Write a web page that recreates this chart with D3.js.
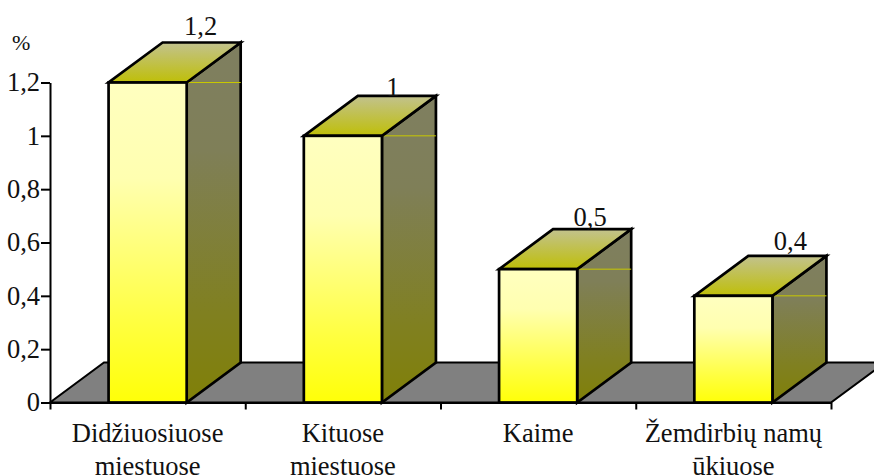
<!DOCTYPE html>
<html>
<head>
<meta charset="utf-8">
<script src="https://cdn.jsdelivr.net/npm/d3@7"></script>
<style>
html,body{margin:0;padding:0;background:#fff;overflow:hidden}
svg{display:block}
text{font-family:"Liberation Serif","Times New Roman",serif;fill:#111}
</style>
</head>
<body>
<svg id="chart" width="874" height="475"></svg>
<script>
const categories = [["Didžiuosiuose","miestuose"],["Kituose","miestuose"],["Kaime"],["Žemdirbių namų","ūkiuose"]];
const values = [1.2, 1, 0.5, 0.4];
const valueLabels = ["1,2","1","0,5","0,4"];
const tickValues = [0, 0.2, 0.4, 0.6, 0.8, 1, 1.2];
const tickLabels = ["0","0,2","0,4","0,6","0,8","1","1,2"];
const unitLabel = "%";

const svg = d3.select("#chart");
const plot = {left: 50, right: 831, top: 82.5, bottom: 402.5};
const depth = {x: 54, y: -40};
const fontSize = 26.5;

const x = d3.scaleBand().domain(d3.range(categories.length)).range([plot.left, plot.right]).paddingInner(0.6).paddingOuter(0.3);
const y = d3.scaleLinear().domain([0, 1.2]).range([plot.bottom, plot.top]);

const defs = svg.append("defs");
function vGradient(id, stops) {
  const g = defs.append("linearGradient").attr("id", id).attr("x1", 0).attr("y1", 0).attr("x2", 0).attr("y2", 1);
  stops.forEach(([offset, color]) => g.append("stop").attr("offset", offset).attr("stop-color", color));
}
vGradient("front", [["0%", "#ffffc0"], ["30%", "#ffffb0"], ["75%", "#ffff40"], ["100%", "#ffff08"]]);
vGradient("side", [["0%", "#7f7f60"], ["30%", "#7f7f58"], ["75%", "#808020"], ["100%", "#808008"]]);
vGradient("cap", [["0%", "#c2c28e"], ["100%", "#bfbf08"]]);

const poly = pts => pts.map(p => p.join(",")).join(" ");

// Ground plane behind the bars
svg.append("polygon")
  .attr("points", poly([[plot.left, plot.bottom], [plot.right, plot.bottom],
    [plot.right + depth.x, plot.bottom + depth.y], [plot.left + depth.x, plot.bottom + depth.y]]))
  .attr("fill", "#808080").attr("stroke", "#000").attr("stroke-width", 2);

// Three visible faces of each bar
const bars = svg.append("g").selectAll("g").data(values).join("g");
const stroke = s => s.attr("stroke", "#000").attr("stroke-width", 2.7).attr("stroke-linejoin", "miter");

bars.append("polygon").call(stroke).attr("fill", "url(#side)")
  .attr("points", (d, i) => {
    const r = x(i) + x.bandwidth();
    return poly([[r, y(d)], [r + depth.x, y(d) + depth.y], [r + depth.x, y(0) + depth.y], [r, y(0)]]);
  });
bars.append("line")
  .attr("x1", (d, i) => x(i) + x.bandwidth() + 1)
  .attr("x2", (d, i) => x(i) + x.bandwidth() + depth.x)
  .attr("y1", d => y(d)).attr("y2", d => y(d))
  .attr("stroke", "#c8c800").attr("stroke-width", 1);
bars.append("polygon").call(stroke).attr("fill", "url(#cap)")
  .attr("points", (d, i) => {
    const l = x(i), r = l + x.bandwidth();
    return poly([[l, y(d)], [r, y(d)], [r + depth.x, y(d) + depth.y], [l + depth.x, y(d) + depth.y]]);
  });
bars.append("rect").call(stroke).attr("fill", "url(#front)")
  .attr("x", (d, i) => x(i)).attr("width", x.bandwidth())
  .attr("y", d => y(d)).attr("height", d => y(0) - y(d));

// Value labels sit over the back edge of each bar, each nudged clear of its neighbours
const labelNudgeX = [-1, -4, -2, 3];
const labelNudgeY = [-8, 0, -3, -6];
bars.append("text")
  .attr("x", (d, i) => x(i) + x.bandwidth() / 2 + depth.x + labelNudgeX[i])
  .attr("y", (d, i) => y(d) + depth.y + labelNudgeY[i])
  .attr("text-anchor", "middle").attr("font-size", fontSize)
  .text((d, i) => valueLabels[i]);

// Value axis
const yAxis = d3.axisLeft(y).tickValues(tickValues).tickFormat((d, i) => tickLabels[i]).tickSize(9).tickPadding(1).tickSizeOuter(0);
const yG = svg.append("g").attr("transform", `translate(${plot.left},0)`).call(yAxis);

// Category axis with ticks on band boundaries
const step = (plot.right - plot.left) / categories.length;
const xEdge = d3.scaleLinear().domain([0, categories.length]).range([plot.left, plot.right]);
const xAxis = d3.axisBottom(xEdge).ticks(categories.length).tickFormat("").tickSize(7).tickSizeOuter(0);
const xG = svg.append("g").attr("transform", `translate(0,${plot.bottom})`).call(xAxis);

for (const g of [yG, xG]) {
  g.selectAll(".domain,line").attr("stroke", "#000").attr("stroke-width", 2);
  g.selectAll("text").attr("font-size", fontSize).attr("fill", "#111").attr("font-family", '"Liberation Serif",serif');
}

// Category labels, one or two centred rows
svg.append("g").selectAll("text").data(categories).join("text")
  .attr("text-anchor", "middle").attr("font-size", fontSize)
  .attr("transform", (d, i) => `translate(${xEdge(i) + step / 2},0)`)
  .selectAll("tspan").data(d => d).join("tspan")
  .attr("x", 0).attr("y", (d, i) => 441.5 + i * 33).text(d => d);

svg.append("text").attr("x", 12).attr("y", 50).attr("font-size", 22).text(unitLabel);
</script>
</body>
</html>
